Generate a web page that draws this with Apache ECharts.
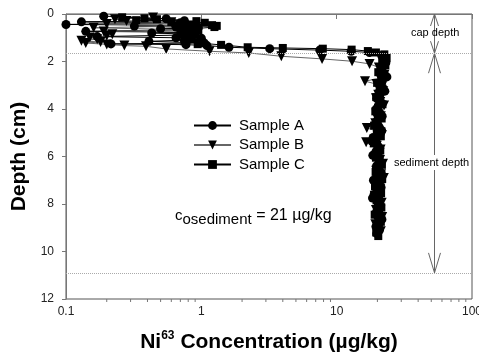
<!DOCTYPE html>
<html><head><meta charset="utf-8">
<script src="https://cdn.jsdelivr.net/npm/echarts@6/dist/echarts.min.js"></script>
<style>html,body{margin:0;padding:0;background:#fff}#c{width:479px;height:362px}</style>
</head><body><div id="c"></div>
<script>
// ---------- data ----------
const seriesNames = ['Sample A', 'Sample B', 'Sample C'];

const depthA = [0.09,0.20,0.28,0.33,0.37,0.44,0.48,0.51,0.55,0.58,0.62,0.66,0.73,0.77,0.80,0.84,0.88,0.95,1.00,1.02,1.06,1.10,1.15,1.22,1.26,1.29,1.33,1.40,1.46,1.52,1.57,1.62,
  1.75,1.90,2.05,2.20,2.35,2.50,2.65,2.80,2.95,3.10,3.25,3.40,3.55,3.70,3.85,4.00,4.15,4.30,4.45,4.60,4.75,4.90,5.05,5.20,5.35,5.50,
  5.65,5.80,5.95,6.10,6.25,6.40,6.55,6.70,6.85,7.00,7.15,7.30,7.45,7.60,7.75,7.90,8.05,8.20,8.35,8.50,8.65,8.80,8.95,9.10,9.25];
const concA = [0.19,0.55,0.75,0.13,0.70,0.10,0.85,0.32,0.65,0.95,0.50,0.80,0.14,0.90,0.43,0.72,0.85,0.17,0.65,1.0,0.82,0.75,0.41,1.05,0.215,0.77,1.1,1.6,3.2,7.5,12.8,17.5,
  21.5,22.8,23.1,22.0,21.3,22.4,23.5,21.8,20.6,21.9,22.7,20.9,19.8,21.2,20.4,19.6,20.8,21.7,20.1,19.4,20.6,21.5,20.2,18.6,18.2,19.9,
  20.8,19.5,18.5,20.3,21.0,19.7,20.5,21.4,19.9,18.7,20.7,21.3,20.0,18.9,18.4,20.1,21.1,20.4,19.6,20.9,21.6,20.2,19.5,20.7,19.8];

const depthB = [0.15,0.22,0.29,0.35,0.42,0.50,0.58,0.66,0.74,0.85,0.92,0.99,1.06,1.13,1.18,1.22,1.28,1.33,1.36,1.47,1.57,1.64,1.78,1.89,1.99,2.10,
  2.25,2.40,2.55,2.70,2.83,2.95,3.10,3.25,3.40,3.55,3.70,3.85,4.00,4.15,4.30,4.45,4.60,4.80,4.95,5.10,5.25,5.40,5.55,5.70,
  5.85,6.00,6.15,6.30,6.45,6.60,6.75,6.90,7.05,7.20,7.35,7.50,7.65,7.80,7.95,8.10,8.25,8.40,8.55,8.70,8.85,9.00,9.15,9.30];
const concB = [0.44,0.23,0.28,0.60,0.20,0.85,0.16,0.72,0.19,0.22,0.20,0.15,0.17,0.13,0.18,0.14,0.20,0.27,0.39,0.55,1.15,2.24,3.9,7.8,13.0,17.5,
  20.5,21.8,22.6,20.9,16.2,19.7,21.4,22.1,20.3,19.5,21.0,22.4,20.8,19.9,21.2,20.1,19.3,16.7,20.4,21.6,20.0,16.5,19.8,21.1,
  20.5,19.4,20.9,22.0,20.7,19.6,21.3,22.3,20.6,19.7,21.0,20.2,19.1,20.4,21.5,20.3,19.5,20.8,21.7,20.0,19.3,20.6,21.2,20.1];

const depthC = [0.14,0.18,0.22,0.26,0.30,0.34,0.37,0.42,0.47,0.50,0.55,0.62,0.70,0.78,0.86,0.95,1.05,1.15,1.22,1.27,1.30,1.40,1.43,1.46,1.50,1.56,1.62,
  1.70,1.85,2.00,2.15,2.30,2.45,2.60,2.75,2.90,3.05,3.20,3.35,3.50,3.65,3.80,3.95,4.10,4.25,4.40,4.55,4.70,4.85,5.00,5.15,
  5.30,5.45,5.60,5.75,5.90,6.05,6.20,6.35,6.50,6.65,6.80,6.95,7.10,7.25,7.40,7.55,7.70,7.85,8.00,8.15,8.30,8.45,8.60,8.75,8.90,9.05,9.20,9.35];
const concC = [0.26,0.38,0.47,0.33,0.92,0.60,1.06,0.75,1.2,1.3,1.25,0.88,0.95,0.70,0.90,0.80,0.85,0.75,0.95,0.94,1.4,2.2,4.0,7.9,12.9,17.0,19.5,
  22.5,23.4,21.7,22.9,21.1,20.3,22.0,21.4,19.9,20.8,21.9,20.5,19.6,20.9,21.8,20.2,19.3,20.7,21.5,20.1,18.9,19.8,20.6,21.2,
  19.7,18.8,20.0,21.0,20.4,19.5,20.8,21.6,20.3,19.4,20.9,21.7,19.9,19.2,20.5,21.3,20.6,19.7,20.2,21.4,20.0,19.1,20.6,21.2,19.8,20.5,19.6,20.3];

const xTickLabels = ['0.1', '1', '10', '100'];
const xMinorTicks = [0.2,0.3,0.4,0.5,0.6,0.7,0.8,0.9,2,3,4,5,6,7,8,9,20,30,40,50,60,70,80,90];
const yTickLabels = ['0','2','4','6','8','10','12'];
const capDepth = 1.65;
const sedimentDepth = 10.9;
const arrowConc = 52;

// ---------- chart ----------
const FONT = 'Liberation Sans, Arial, Helvetica, sans-serif';
const pairs = (xs, ys) => xs.map((v, i) => [v, ys[i]]);
const chart = echarts.init(document.getElementById('c'), null, {renderer: 'canvas'});

const arrowStyle = [{w: 4, h: 12}, {w: 6, h: 20}];

const option = {
  animation: false,
  backgroundColor: '#fff',
  grid: {left: 66, right: 7, top: 14, bottom: 63, show: true, borderColor: '#555', borderWidth: 1,
    backgroundColor: 'transparent', containLabel: false, outerBoundsMode: 'none'},
  legend: {
    orient: 'vertical', left: 193, top: 118, padding: 0, itemWidth: 37, itemHeight: 11, itemGap: 4.5,
    data: seriesNames,
    textStyle: {fontSize: 15, fontFamily: FONT, color: '#000', padding: [0, 0, 0, 3]}
  },
  xAxis: {
    type: 'log', logBase: 10, min: 0.1, max: 100,
    axisLine: {lineStyle: {color: '#777'}},
    axisTick: {length: 5, lineStyle: {color: '#777'}},
    splitLine: {show: false},
    axisLabel: {fontSize: 12, fontFamily: FONT, color: '#222', margin: 7,
      formatter: (v) => { const i = Math.round(Math.log10(v)) + 1; return xTickLabels[i] !== undefined ? xTickLabels[i] : ''; }},
    name: '{b|Ni}{sup|63}{b| Concentration (µg/kg)}',
    nameLocation: 'middle', nameGap: 31,
    nameTextStyle: {rich: {
      b: {fontSize: 21, fontWeight: 'bold', fontFamily: FONT, color: '#000', lineHeight: 24},
      sup: {fontSize: 12, fontWeight: 'bold', fontFamily: FONT, color: '#000', lineHeight: 13, verticalAlign: 'top'}
    }}
  },
  yAxis: {
    type: 'value', inverse: true, min: 0, max: 12, interval: 2,
    axisLine: {show: true, lineStyle: {color: '#777'}},
    axisTick: {show: true, length: 4, lineStyle: {color: '#777'}},
    splitLine: {show: false},
    axisLabel: {fontSize: 12, fontFamily: FONT, color: '#222', margin: 12,
      formatter: (v) => yTickLabels[Math.round(v / 2)]},
    name: 'Depth (cm)', nameLocation: 'middle', nameGap: 36,
    nameTextStyle: {fontSize: 21, fontWeight: 'bold', fontFamily: FONT, color: '#000'}
  },
  series: [
    {
      name: 'Sample A', type: 'line', data: pairs(concA, depthA),
      symbol: 'circle', symbolSize: 9, showSymbol: true,
      itemStyle: {color: '#000'}, lineStyle: {color: '#000', width: 1},
      markLine: {
        silent: true, symbol: 'none', label: {show: false},
        lineStyle: {color: '#aaa', type: 'dotted', width: 1},
        data: [{yAxis: capDepth}, {yAxis: sedimentDepth}]
      }
    },
    {
      name: 'Sample B', type: 'line', data: pairs(concB, depthB),
      symbol: 'triangle', symbolRotate: 180, symbolSize: 10,
      itemStyle: {color: '#000'}, lineStyle: {color: '#666', width: 1}
    },
    {
      name: 'Sample C', type: 'line', data: pairs(concC, depthC),
      symbol: 'rect', symbolSize: 8,
      itemStyle: {color: '#000'}, lineStyle: {color: '#000', width: 1}
    },
    {
      name: 'minorTicks', type: 'custom', silent: true, clip: false,
      data: xMinorTicks.map(v => [v, 12]),
      renderItem: (params, api) => {
        const p = api.coord([api.value(0), api.value(1)]);
        return {type: 'line', shape: {x1: p[0], y1: p[1], x2: p[0], y2: p[1] + 3}, style: {stroke: '#777', lineWidth: 1}};
      }
    },
    {
      name: 'arrows', type: 'custom', silent: true, clip: false, z: 3,
      data: [[arrowConc, 0, capDepth], [arrowConc, capDepth, sedimentDepth]],
      renderItem: (params, api) => {
        const a = api.coord([api.value(0), api.value(1)]);
        const b = api.coord([api.value(0), api.value(2)]);
        const s = arrowStyle[params.dataIndex];
        const x = Math.round(a[0]) + 0.5;
        const st = {stroke: '#666', lineWidth: 1, fill: null};
        return {type: 'group', children: [
          {type: 'line', shape: {x1: x, y1: a[1], x2: x, y2: b[1]}, style: st},
          {type: 'polyline', shape: {points: [[x - s.w, a[1] + s.h], [x, a[1]], [x + s.w, a[1] + s.h]]}, style: st},
          {type: 'polyline', shape: {points: [[x - s.w, b[1] - s.h], [x, b[1]], [x + s.w, b[1] - s.h]]}, style: st}
        ]};
      }
    }
  ],
  graphic: [
    {type: 'text', left: 411, top: 27, z: 10,
      style: {text: 'cap depth', font: '11px ' + FONT, fill: '#000'}},
    {type: 'text', left: 393, top: 155, z: 10,
      style: {text: 'sediment depth', font: '11px ' + FONT, fill: '#000', backgroundColor: '#fff', padding: [2, 1, 2, 1]}},
    {type: 'text', left: 175, top: 208, z: 10,
      style: {
        text: '{c|c}{s|osediment}{n| = 21 µg/kg}',
        rich: {
          c: {fontSize: 15, fontFamily: FONT, fill: '#000', padding: [0, 0, 4, 0]},
          s: {fontSize: 15, fontFamily: FONT, fill: '#000', padding: [4, 0, 0, 0]},
          n: {fontSize: 16, fontFamily: FONT, fill: '#000', padding: [0, 0, 4, 0]}
        }
      }}
  ]
};
chart.setOption(option);
</script>
</body></html>
